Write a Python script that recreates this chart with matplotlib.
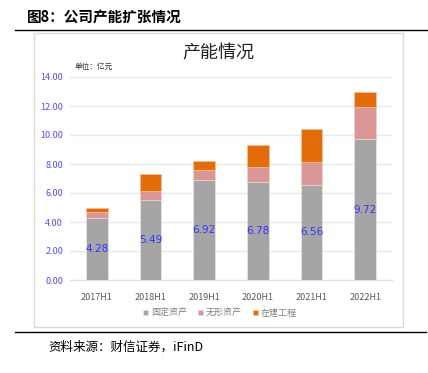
import matplotlib
matplotlib.use("Agg")
import matplotlib.pyplot as plt
from matplotlib.patches import Rectangle
from matplotlib.lines import Line2D

plt.rcParams['font.family'] = ['Noto Sans CJK SC', 'DejaVu Sans']

categories = ["2017H1", "2018H1", "2019H1", "2020H1", "2021H1", "2022H1"]
fixed_assets = [4.28, 5.49, 6.92, 6.78, 6.56, 9.72]
intangible_assets = [0.40, 0.62, 0.66, 1.02, 1.56, 2.24]
construction = [0.30, 1.18, 0.63, 1.53, 2.30, 1.04]
series_names = ["固定资产", "无形资产", "在建工程"]
yticks = [0, 2, 4, 6, 8, 10, 12, 14]

W, H = 428, 373
fig = plt.figure(figsize=(W/100, H/100), dpi=100)

def fx(px): return px / W
def fy(py): return 1 - py / H

# header
fig.text(fx(27), fy(17), "图8：公司产能扩张情况", fontsize=10.5, fontweight='bold', va='center', ha='left')
fig.add_artist(Line2D([fx(15), fx(428)], [fy(30), fy(30)], color='black', lw=1.0))
fig.add_artist(Line2D([fx(15), fx(426)], [fy(332), fy(332)], color='black', lw=1.0))
# chart box
fig.add_artist(Rectangle((fx(34), fy(327)), fx(403) - fx(34), fy(33) - fy(327),
                         fill=False, edgecolor='#d9d9d9', lw=1.0))
fig.text(fx(48), fy(347), "资料来源：财信证券，iFinD", fontsize=9, style='italic', va='center', ha='left')

ax = fig.add_axes([fx(70), fy(280), fx(392) - fx(70), fy(77) - fy(280)])
x = list(range(len(categories)))
bw = 0.40
c_gray, c_pink, c_orange = '#A5A5A5', '#DA9694', '#E46C0A'
b1 = ax.bar(x, fixed_assets, bw, color=c_gray, edgecolor='#e6e6e6', lw=0.5, zorder=3)
b2 = ax.bar(x, intangible_assets, bw, bottom=fixed_assets, color=c_pink, edgecolor='#f2d0cf', lw=0.5, zorder=3)
bottom3 = [a + b for a, b in zip(fixed_assets, intangible_assets)]
b3 = ax.bar(x, construction, bw, bottom=bottom3, color=c_orange, edgecolor='#f5c09a', lw=0.5, zorder=3)

for xi, v in zip(x, fixed_assets):
    ax.text(xi, v / 2, f"{v:.2f}", ha='center', va='center', color='#3333ff', fontsize=7.5, zorder=4,
            family=['DejaVu Sans'])

ax.set_xlim(-0.5, len(categories) - 0.5)
ax.set_ylim(0, 14)
ax.set_yticks(yticks)
ax.set_yticklabels([f"{t:.2f}" for t in yticks], color='#4d4dff', fontsize=6.5)
ax.set_xticks(x)
ax.set_xticklabels(categories, color='#595959', fontsize=6.5)
ax.tick_params(axis='both', length=0, pad=5)
ax.tick_params(axis='x', pad=9)
ax.grid(axis='y', color='#e8e8e8', lw=1.0, zorder=0)
for s in ax.spines.values():
    s.set_visible(False)
ax.spines['bottom'].set_visible(True)
ax.spines['bottom'].set_color('#e0e0e0')

fig.text(fx(218), fy(53), "产能情况", fontsize=13, ha='center', va='center', color='#222222')
fig.text(fx(75), fy(67), "单位：亿元", fontsize=5.5, ha='left', va='center', color='#333333')

leg = fig.legend([b1, b2, b3], series_names, loc='center', bbox_to_anchor=(fx(220), fy(313)),
                 ncol=3, frameon=False, fontsize=6.5, handlelength=0.6, handleheight=0.6,
                 handletextpad=0.3, columnspacing=1.2, labelcolor='#7f7f7f')

fig.savefig("out.png", dpi=100)
